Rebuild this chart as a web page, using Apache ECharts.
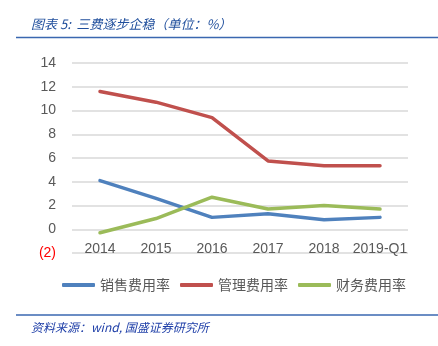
<!DOCTYPE html>
<html>
<head>
<meta charset="utf-8">
<script src="https://cdn.jsdelivr.net/npm/echarts@6/dist/echarts.min.js"></script>
<style>html,body{margin:0;padding:0;background:#fff;}#c{width:438px;height:346px;}</style>
</head>
<body>
<div id="c"></div>
<script>
var categories = ['2014', '2015', '2016', '2017', '2018', '2019-Q1'];
var salesRate = [4.1, 2.6, 1.0, 1.3, 0.8, 1.0];
var mgmtRate = [11.6, 10.7, 9.4, 5.75, 5.35, 5.35];
var finRate = [-0.3, 0.9, 2.7, 1.7, 2.0, 1.7];
var seriesNames = ['销售费用率', '管理费用率', '财务费用率'];
var titleText = '图表 5:  三费逐步企稳（单位：%）';
var sourceText = '资料来源：wind, 国盛证券研究所';

var chart = echarts.init(document.getElementById('c'));
var cjk = '"Noto Sans CJK SC", "Noto Sans", sans-serif';
var num = '"Liberation Sans", "DejaVu Sans", sans-serif';
function mk(name, data, color) {
  return {
    name: name, type: 'line', data: data, showSymbol: false, symbol: 'none',
    lineStyle: { color: color, width: 3.5, cap: 'round' },
    itemStyle: { color: color }
  };
}
chart.setOption({
  animation: false,
  title: [
    { text: titleText, left: 26, top: 13, textStyle: { fontFamily: cjk, fontSize: 13, fontStyle: 'italic', fontWeight: 'normal', color: '#1F4E9C' } },
    { text: sourceText, left: 26, top: 316, textStyle: { fontFamily: cjk, fontSize: 12, fontStyle: 'italic', fontWeight: 'normal', color: '#1F3FA8' } }
  ],
  graphic: [
    { type: 'line', shape: { x1: 16, y1: 37.5, x2: 438, y2: 37.5 }, style: { stroke: '#3A67B0', lineWidth: 1.5 } },
    { type: 'line', shape: { x1: 16, y1: 315, x2: 438, y2: 315 }, style: { stroke: '#3A67B0', lineWidth: 1.5 } }
  ],
  grid: { left: 72, right: 30, top: 63, bottom: 93, containLabel: false },
  legend: {
    data: seriesNames, top: 273, left: 57, icon: 'roundRect',
    itemWidth: 33, itemHeight: 4, itemGap: 10,
    textStyle: { fontFamily: cjk, fontSize: 14, color: '#595959' }
  },
  xAxis: {
    type: 'category', data: categories, boundaryGap: true,
    axisLine: { show: false }, axisTick: { show: false },
    axisLabel: { interval: 0, margin: -11, fontFamily: num, fontSize: 14, color: '#595959' }
  },
  yAxis: {
    type: 'value', min: -2, max: 14, interval: 2,
    axisLine: { show: false }, axisTick: { show: false },
    splitLine: { lineStyle: { color: '#D9D9D9', width: 1.5 } },
    axisLabel: {
      margin: 16, fontFamily: num, fontSize: 14, color: '#595959',
      formatter: function (v) { return v < 0 ? '{neg|(' + Math.abs(v) + ')}' : String(v); },
      rich: { neg: { color: '#FF0000', fontFamily: num, fontSize: 14 } }
    }
  },
  series: [
    mk(seriesNames[0], salesRate, '#4F81BD'),
    mk(seriesNames[1], mgmtRate, '#C0504D'),
    mk(seriesNames[2], finRate, '#9BBB59')
  ]
});
</script>
</body>
</html>
